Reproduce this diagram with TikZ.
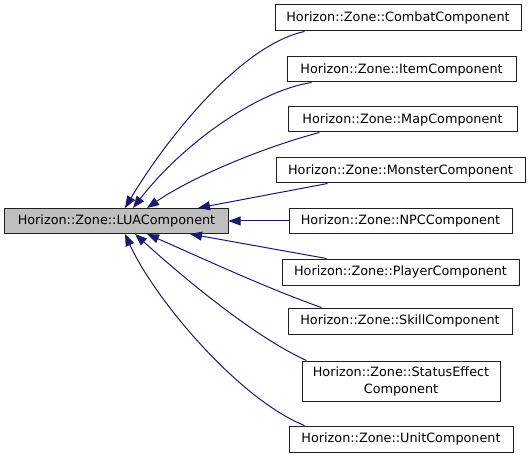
\documentclass[tikz,border=0pt]{standalone}
\usepackage{fontspec}
\setmainfont{DejaVu Sans}
\usetikzlibrary{arrows.meta}
\definecolor{edgeblue}{HTML}{191970}
\definecolor{mainfill}{HTML}{BFBFBF}
\definecolor{boxline}{HTML}{202020}
\begin{document}
\begin{tikzpicture}[x=1bp,y=-1bp,
  cls/.style={draw=boxline, line width=1bp, fill=white, inner sep=0pt,
    minimum height=25bp, align=center,
    font=\fontsize{12.8bp}{17bp}\selectfont},
  edge/.style={draw=edgeblue, line width=1bp,
    -{Triangle[length=12bp,width=9bp]}}]
\useasboundingbox (0,0) rectangle (531,459);
\node[cls, fill=mainfill, minimum width=223bp] (main) at (116.5,221) {Horizon::Zone::LUAComponent};
\node[cls, minimum width=246bp, minimum height=26bp] (combat) at (398,18) {Horizon::Zone::CombatComponent};
\node[cls, minimum width=229bp] (item) at (401.5,69.5) {Horizon::Zone::ItemComponent};
\node[cls, minimum width=229bp] (map) at (402.5,119.5) {Horizon::Zone::MapComponent};
\node[cls, minimum width=249bp] (monster) at (400.5,170.5) {Horizon::Zone::MonsterComponent};
\node[cls, minimum width=223bp] (npc) at (400.5,221) {Horizon::Zone::NPCComponent};
\node[cls, minimum width=237bp, minimum height=26bp] (player) at (400.5,272) {Horizon::Zone::PlayerComponent};
\node[cls, minimum width=224bp, minimum height=26bp] (skill) at (400,321) {Horizon::Zone::SkillComponent};
\node[cls, minimum width=198bp, minimum height=40bp] (status) at (401,381) {Horizon::Zone::StatusEffect\\Component};
\node[cls, minimum width=224bp, minimum height=26bp] (unit) at (401,439) {Horizon::Zone::UnitComponent};

\draw[edge] ([xshift=30bp]combat.south west) .. controls +(-65,14) and +(40,-67) .. ([xshift=8.5bp]main.north);
\draw[edge] ([xshift=25bp]item.south west) .. controls +(-52,8) and +(52,-67) .. ([xshift=16.5bp]main.north);
\draw[edge] ([xshift=32bp]map.south west) .. controls +(-50,13) and +(48,-33) .. ([xshift=30.5bp]main.north);
\draw[edge] ([xshift=52bp]monster.south west) -- ([xshift=81.5bp]main.north);
\draw[edge] (npc.west) -- (main.east);
\draw[edge] ([xshift=45bp]player.north west) -- ([xshift=73.5bp]main.south);
\draw[edge] ([xshift=34bp]skill.north west) .. controls +(-52,-18) and +(48,21) .. ([xshift=30.5bp]main.south);
\draw[edge] ([xshift=5bp]status.north west) .. controls +(-57,-26) and +(40,36) .. ([xshift=18.5bp]main.south);
\draw[edge] ([xshift=16bp]unit.north west) .. controls +(-65,-26) and +(30,66) .. ([xshift=8.5bp]main.south);
\end{tikzpicture}
\end{document}
